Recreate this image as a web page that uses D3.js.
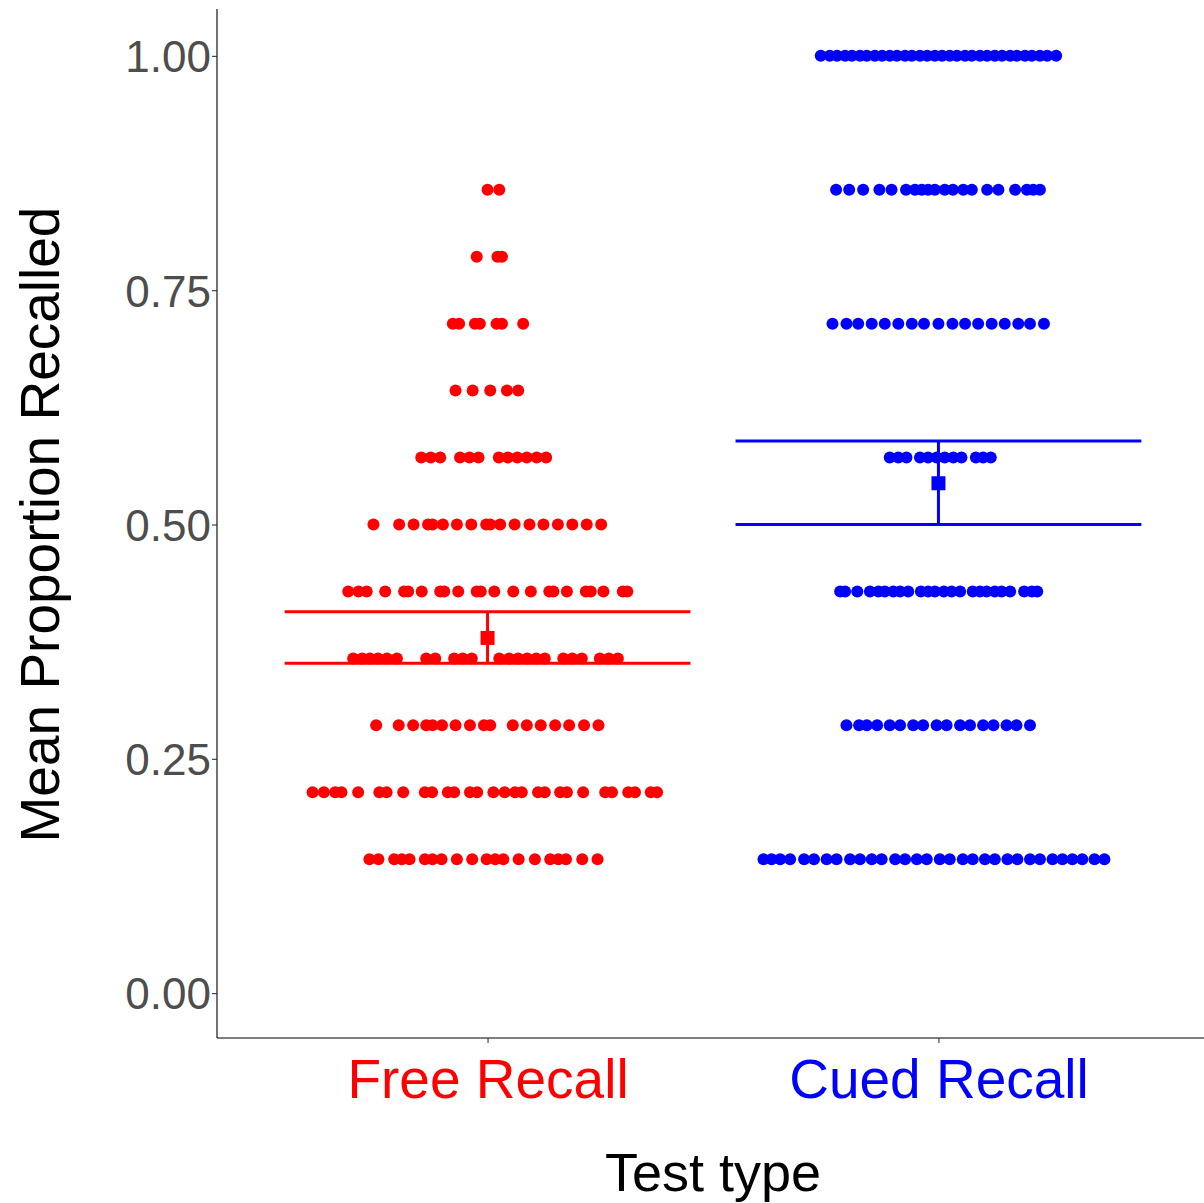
<!DOCTYPE html>
<html>
<head>
<meta charset="utf-8">
<script src="https://cdn.jsdelivr.net/npm/d3@7"></script>
<style>
  html, body { margin: 0; padding: 0; background: #fff; }
  svg { display: block; }
  text { font-family: "Liberation Sans", Arial, sans-serif; }
</style>
</head>
<body>
<svg id="chart" width="1204" height="1203"></svg>
<script>
// ---------- data ----------
const categories = ["Free Recall", "Cued Recall"];
const categoryColors = ["#FF0000", "#0000FF"];
const yTicks = [0, 0.25, 0.5, 0.75, 1.0];
const yTickLabels = ["0.00", "0.25", "0.50", "0.75", "1.00"];

// Free recall: proportion level (k/14) and horizontal jitter (category units) of each participant
const freeLevels = [12/14, 11/14, 10/14, 9/14, 8/14, 7/14, 6/14, 5/14, 4/14, 3/14, 2/14];
const freeJitter = [
  [-0.000, 0.026],
  [-0.024, 0.022, 0.032],
  [-0.077, -0.063, -0.028, -0.017, 0.020, 0.032, 0.079],
  [-0.071, -0.033, 0.006, 0.043, 0.068],
  [-0.147, -0.126, -0.105, -0.061, -0.040, -0.020, 0.025, 0.045, 0.066, 0.087, 0.109, 0.130],
  [-0.253, -0.196, -0.164, -0.132, -0.122, -0.099, -0.068, -0.036, -0.003, 0.006, 0.028, 0.060, 0.093, 0.124, 0.156, 0.188, 0.220, 0.252],
  [-0.309, -0.286, -0.268, -0.227, -0.185, -0.176, -0.146, -0.105, -0.096, -0.065, -0.024, -0.015, 0.015, 0.057, 0.096, 0.137, 0.146, 0.176, 0.218, 0.229, 0.257, 0.300, 0.310],
  [-0.298, -0.278, -0.261, -0.243, -0.223, -0.201, -0.136, -0.116, -0.074, -0.055, -0.035, 0.026, 0.048, 0.068, 0.088, 0.108, 0.127, 0.168, 0.188, 0.209, 0.249, 0.269, 0.289],
  [-0.247, -0.197, -0.165, -0.136, -0.122, -0.101, -0.071, -0.039, -0.008, 0.006, 0.056, 0.087, 0.118, 0.150, 0.181, 0.214, 0.246],
  [-0.388, -0.363, -0.338, -0.324, -0.287, -0.240, -0.224, -0.187, -0.139, -0.123, -0.088, -0.074, -0.039, -0.023, 0.013, 0.038, 0.061, 0.076, 0.112, 0.127, 0.161, 0.176, 0.212, 0.261, 0.276, 0.312, 0.327, 0.362, 0.376],
  [-0.262, -0.242, -0.207, -0.190, -0.173, -0.139, -0.122, -0.102, -0.068, -0.034, -0.002, 0.017, 0.035, 0.069, 0.105, 0.139, 0.157, 0.174, 0.210, 0.244]
];

// Cued recall: proportion level (k/7) and horizontal jitter
const cuedLevels = [7/7, 6/7, 5/7, 4/7, 3/7, 2/7, 1/7];
const cuedJitter = [
  [-0.261, -0.241, -0.225, -0.207, -0.192, -0.174, -0.159, -0.141, -0.125, -0.108, -0.092, -0.074, -0.059, -0.041, -0.025, -0.008, 0.008, 0.025, 0.041, 0.059, 0.074, 0.092, 0.108, 0.125, 0.141, 0.159, 0.174, 0.192, 0.207, 0.225, 0.241, 0.261],
  [-0.227, -0.198, -0.167, -0.131, -0.104, -0.072, -0.052, -0.037, -0.023, -0.008, 0.014, 0.032, 0.055, 0.074, 0.108, 0.133, 0.170, 0.196, 0.210, 0.225],
  [-0.235, -0.204, -0.178, -0.148, -0.119, -0.089, -0.059, -0.032, -0.000, 0.031, 0.059, 0.088, 0.118, 0.147, 0.177, 0.203, 0.234],
  [-0.108, -0.089, -0.071, -0.041, -0.023, -0.004, 0.014, 0.033, 0.051, 0.083, 0.099, 0.116],
  [-0.218, -0.207, -0.180, -0.152, -0.133, -0.119, -0.100, -0.085, -0.067, -0.039, -0.023, -0.008, 0.012, 0.029, 0.048, 0.076, 0.092, 0.107, 0.125, 0.140, 0.159, 0.190, 0.207, 0.219],
  [-0.204, -0.176, -0.159, -0.136, -0.108, -0.085, -0.056, -0.034, -0.004, 0.018, 0.048, 0.070, 0.099, 0.122, 0.151, 0.173, 0.203],
  [-0.388, -0.370, -0.351, -0.329, -0.298, -0.276, -0.248, -0.226, -0.196, -0.174, -0.148, -0.126, -0.096, -0.074, -0.048, -0.026, 0.003, 0.025, 0.054, 0.076, 0.103, 0.125, 0.153, 0.175, 0.203, 0.225, 0.253, 0.275, 0.297, 0.319, 0.346, 0.368]
];

// summary statistics (mean and interval)
const means = [0.379, 0.544];
const lowers = [0.352, 0.500];
const uppers = [0.407, 0.589];

// ---------- build ----------
const svg = d3.select("#chart");
const mLeft = 217, mTop = 9, mBottom = 1040, mRight = 1209;

const x = d3.scaleLinear().domain([0.4, 2.6]).range([mLeft, mRight]);
const y = d3.scaleLinear().domain([-0.05, 1.05]).range([mBottom, mTop]);

const points = [];
freeLevels.forEach((lv, i) => freeJitter[i].forEach(j => points.push({c: 0, x: 1 + j, y: lv})));
cuedLevels.forEach((lv, i) => cuedJitter[i].forEach(j => points.push({c: 1, x: 2 + j, y: lv})));

// points
svg.append("g").selectAll("circle").data(points).join("circle")
  .attr("cx", d => x(d.x))
  .attr("cy", d => y(d.y))
  .attr("r", 6)
  .attr("fill", d => categoryColors[d.c]);

// error bars
const eb = svg.append("g");
categories.forEach((c, i) => {
  const col = categoryColors[i];
  const cx = i + 1;
  eb.append("line").attr("x1", x(cx - 0.45)).attr("x2", x(cx + 0.45))
    .attr("y1", y(uppers[i])).attr("y2", y(uppers[i]))
    .attr("stroke", col).attr("stroke-width", 3);
  eb.append("line").attr("x1", x(cx - 0.45)).attr("x2", x(cx + 0.45))
    .attr("y1", y(lowers[i])).attr("y2", y(lowers[i]))
    .attr("stroke", col).attr("stroke-width", 3);
  eb.append("line").attr("x1", x(cx)).attr("x2", x(cx))
    .attr("y1", y(uppers[i])).attr("y2", y(lowers[i]))
    .attr("stroke", col).attr("stroke-width", 3);
  eb.append("rect").attr("x", x(cx) - 7).attr("y", y(means[i]) - 7)
    .attr("width", 14).attr("height", 14).attr("fill", col);
});

// y axis
const yAxis = d3.axisLeft(y).tickValues(yTicks).tickSize(5).tickPadding(1)
  .tickFormat((d, i) => yTickLabels[i]);
const gy = svg.append("g").attr("transform", `translate(${mLeft},0)`).call(yAxis);
gy.select(".domain").attr("d", `M0,${mTop}V${mBottom - 2}`).attr("stroke", "#000").attr("stroke-width", 1.1);
gy.selectAll(".tick line").attr("stroke", "#333").attr("stroke-width", 1.1);
gy.selectAll(".tick text").attr("font-size", 44).attr("fill", "#4D4D4D")
  .attr("font-family", "Liberation Sans, Arial, sans-serif").attr("dy", "0.36em");

// x axis
const xAxis = d3.axisBottom(x).tickValues([1, 2]).tickSize(5).tickPadding(16)
  .tickFormat((d, i) => categories[i]);
const gx = svg.append("g").attr("transform", `translate(0,${mBottom - 2})`).call(xAxis);
gx.select(".domain").attr("d", `M${mLeft},0H1204`).attr("stroke", "#000").attr("stroke-width", 1.1);
gx.selectAll(".tick line").attr("stroke", "#333").attr("stroke-width", 1.1);
gx.selectAll(".tick text").attr("font-size", 55)
  .attr("font-family", "Liberation Sans, Arial, sans-serif")
  .attr("fill", (d, i) => categoryColors[i]).attr("dy", "0.71em");

// titles
svg.append("text").attr("x", (mLeft + mRight) / 2).attr("y", 1191)
  .attr("text-anchor", "middle").attr("font-size", 54).attr("fill", "#000")
  .text("Test type");
svg.append("text").attr("transform", `translate(59,${(mTop + mBottom) / 2}) rotate(-90)`)
  .attr("text-anchor", "middle").attr("font-size", 55).attr("fill", "#000")
  .text("Mean Proportion Recalled");
</script>
</body>
</html>
